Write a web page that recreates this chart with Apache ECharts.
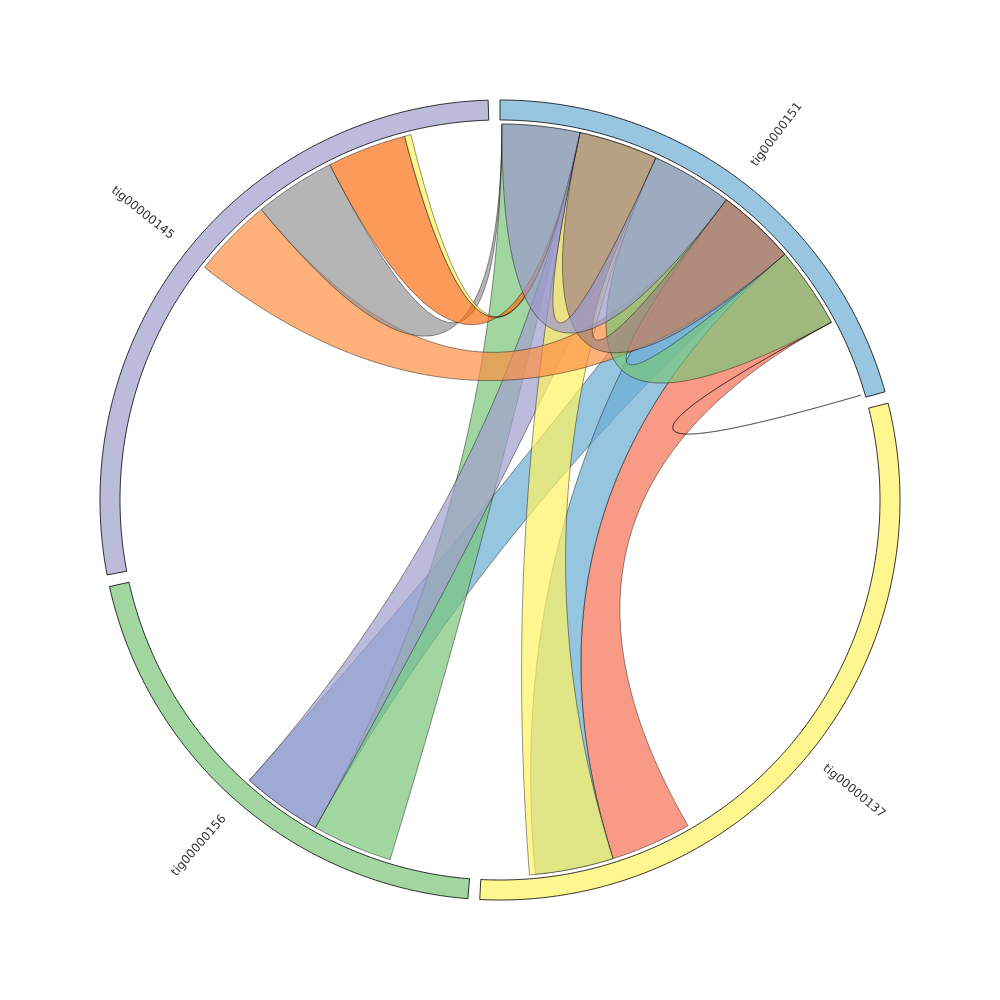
<!DOCTYPE html>
<html><head><meta charset="utf-8">
<script src="https://cdn.jsdelivr.net/npm/echarts@6/dist/echarts.min.js"></script>
<style>html,body{margin:0;padding:0;background:#fff}#chart{width:1000px;height:1000px}</style>
</head><body><div id="chart"></div>
<script>
// ---- contigs (lengths in kb) ----
const contigs = ['tig00000151', 'tig00000137', 'tig00000156', 'tig00000145'];
const contigLengths = [743, 1069, 729, 991];
const contigColors = ['#98c6e1', '#fff68f', '#a1d6a1', '#bdbbdc'];
const gapSize = 17;

// ---- links (positions in kb on each contig), drawn in this order ----
const linkFrom      = ['tig00000151','tig00000151','tig00000151','tig00000151','tig00000151','tig00000151','tig00000151','tig00000151','tig00000151','tig00000151','tig00000151','tig00000151','tig00000151','tig00000151'];
const linkFromStart = [492, 370, 370, 3,   123, 123, 370, 3, 123, 123, 245, 123, 3,   618];
const linkFromEnd   = [618, 492, 492, 123, 245, 245, 492, 3, 123, 123, 370, 245, 123, 618];
const linkTo        = ['tig00000137','tig00000156','tig00000137','tig00000156','tig00000156','tig00000137','tig00000145','tig00000145','tig00000145','tig00000145','tig00000151','tig00000151','tig00000151','tig00000151'];
const linkToStart   = [740, 248, 865, 124, 248, 865, 490, 614, 739, 861, 492, 370, 245, 738];
const linkToEnd     = [865, 372, 986, 248, 372, 995, 614, 739, 861, 871, 618, 492, 370, 738];
const linkColors    = ['#f66f52','#6aacd3','#6aacd3','#79c479','#a19ecd','#fff25f','#fc8e41','#959595','#fb6f13','#fff25f','#79c479','#a38482','#9b99cc','none'];

const totalLength = contigLengths.reduce((a, b) => a + b, 0) + gapSize * contigs.length;
const offsets = [];
(function () { let acc = 0; contigLengths.forEach(l => { offsets.push(acc); acc += l + gapSize; }); })();
const gpos = (c, p) => offsets[contigs.indexOf(c)] + p;

const R_OUT = 400, R_IN = 380, R_LINK = 376, R_LABEL = 420;

function arcPts(api, r, a1, a2) {
  const n = Math.max(1, Math.ceil(Math.abs(a2 - a1) / 4));
  const pts = [];
  for (let k = 0; k <= n; k++) pts.push(api.coord([r, a1 + (a2 - a1) * k / n]));
  return pts;
}
function bezPts(api, a1, a2) {
  const p0 = api.coord([R_LINK, a1]), p2 = api.coord([R_LINK, a2]), c = api.coord([0, 0]);
  const pts = [];
  const n = 80;
  for (let k = 1; k < n; k++) {
    const t = k / n, u = 1 - t;
    pts.push([u * u * p0[0] + 2 * t * u * c[0] + t * t * p2[0], u * u * p0[1] + 2 * t * u * c[1] + t * t * p2[1]]);
  }
  return pts;
}

const chart = echarts.init(document.getElementById('chart'));
chart.setOption({
  backgroundColor: '#fff',
  animation: false,
  polar: { center: ['50%', '50%'], radius: R_OUT },
  angleAxis: { type: 'value', min: 0, max: totalLength, startAngle: 90, clockwise: true, show: false },
  radiusAxis: { type: 'value', min: 0, max: R_OUT, show: false },
  series: [
    {
      type: 'custom', coordinateSystem: 'polar', silent: true, z: 1,
      data: linkFrom.map((c, i) => [R_LINK, gpos(c, linkFromStart[i])]),
      renderItem: function (params, api) {
        const i = params.dataIndex;
        const s1 = gpos(linkFrom[i], linkFromStart[i]), s2 = gpos(linkFrom[i], linkFromEnd[i]);
        const t1 = gpos(linkTo[i], linkToStart[i]), t2 = gpos(linkTo[i], linkToEnd[i]);
        let pts = [];
        pts = pts.concat(arcPts(api, R_LINK, s1, s2));
        pts = pts.concat(bezPts(api, s2, t1));
        pts = pts.concat(arcPts(api, R_LINK, t1, t2));
        pts = pts.concat(bezPts(api, t2, s1));
        const col = linkColors[i];
        return {
          type: 'polygon', shape: { points: pts },
          style: { fill: col === 'none' ? 'transparent' : col, fillOpacity: 0.7, stroke: 'rgba(0,0,0,0.7)', lineWidth: 0.6 }
        };
      }
    },
    {
      type: 'custom', coordinateSystem: 'polar', silent: true, z: 2,
      data: contigs.map((c, i) => [390, offsets[i] + contigLengths[i] / 2]),
      renderItem: function (params, api) {
        const i = params.dataIndex;
        const a1 = offsets[i], a2 = offsets[i] + contigLengths[i];
        const pts = arcPts(api, R_OUT, a1, a2).concat(arcPts(api, R_IN, a2, a1));
        const mid = (a1 + a2) / 2;
        const theta = mid / totalLength * 360;
        const lp = api.coord([R_LABEL, mid]);
        const right = theta < 180;
        const rot = (right ? (90 - theta) : (270 - theta)) * Math.PI / 180;
        return {
          type: 'group',
          children: [
            { type: 'polygon', shape: { points: pts }, style: { fill: contigColors[i], stroke: '#000', lineWidth: 0.8 } },
            { type: 'text', x: lp[0], y: lp[1], rotation: rot,
              style: { text: contigs[i], fill: '#333', fontSize: 12, fontFamily: 'DejaVu Sans', align: right ? 'left' : 'right', verticalAlign: 'middle' } }
          ]
        };
      }
    }
  ]
});
</script>
</body></html>
